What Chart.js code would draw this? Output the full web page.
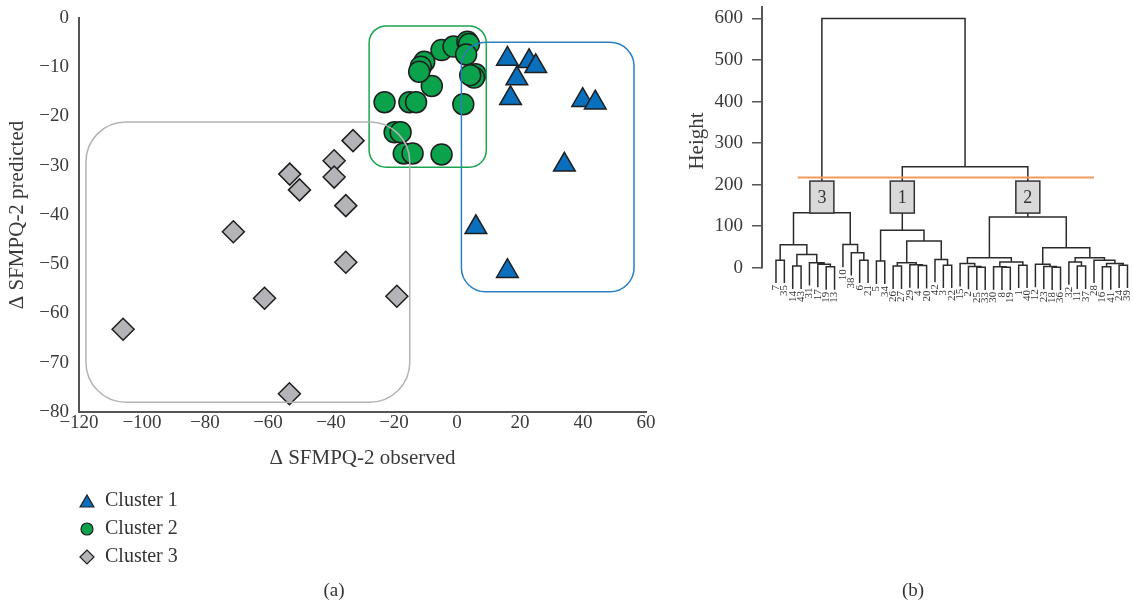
<!DOCTYPE html>
<html>
<head>
<meta charset="utf-8">
<script src="https://cdn.jsdelivr.net/npm/chart.js@4.4.1/dist/chart.umd.min.js"></script>
<style>
  html, body { margin: 0; padding: 0; background: #fff; }
  #wrap { position: relative; width: 1133px; height: 604px; overflow: hidden; }
  #scatter { position: absolute; left: 0; top: 0; }
  #dendro { position: absolute; left: 680px; top: 0; }
</style>
</head>
<body>
<div id="wrap">
  <canvas id="scatter" width="660" height="604"></canvas>
  <canvas id="dendro" width="453" height="604"></canvas>
</div>
<script>
// ---- (a) scatter: observed vs predicted change ----
const cluster1X = [16.0, 22.9, 25.0, 19.0, 17.0, 39.9, 43.9, 34.1, 6.0, 16.0];
const cluster1Y = [-8.3, -8.8, -9.8, -12.3, -16.3, -16.7, -17.2, -29.8, -42.5, -51.4];
const cluster2X = [-23.0, -15.1, -13.0, -8.0, -10.4, -11.5, -12.0, -4.9, -1.1, 3.3, 3.8, 2.9, 5.9, 5.4, 4.2, 2.0, -19.8, -17.9, -16.9, -14.1, -4.9];
const cluster2Y = [-17.1, -17.1, -17.1, -13.8, -8.9, -9.9, -10.9, -6.5, -5.8, -4.8, -5.3, -7.4, -11.4, -12.1, -11.6, -17.5, -23.2, -23.2, -27.5, -27.5, -27.7];
const cluster3X = [-106.0, -71.0, -61.1, -53.2, -53.1, -50.0, -39.0, -39.0, -35.3, -33.0, -35.3, -19.1];
const cluster3Y = [-63.2, -43.4, -56.9, -76.3, -31.7, -34.9, -29.0, -32.3, -38.1, -24.9, -49.6, -56.5];
const clusterNames = ['Cluster 1', 'Cluster 2', 'Cluster 3'];

// rounded frames around the clusters, in axis units (cluster 1, 2, 3)
const frameXMin = [1.4, -27.9, -117.8];
const frameXMax = [56.2, 9.3, -15.0];
const frameYMin = [-55.6, -30.3, -78.0];
const frameYMax = [-4.9, -1.6, -21.1];

// ---- (b) dendrogram ----
const leafLabels = ['7','35','14','43','31','17','19','13','10','38','6','21','5','34','26','27','29','4','20','42','3','22',
  '15','2','25','33','30','8','19','1','40','12','23','18','36','32','11','37','28','16','41','24','39'];
// R style merges: negative = leaf position (1 based), positive = earlier merge
const mergePairs = [
  [-1, -2], [-3, -4], [-7, -8], [-6, 3], [-5, 4], [2, 5], [1, 6], [-11, -12], [-10, 8], [-9, 9], [7, 10],
  [-13, -14], [-15, -16], [-18, -19], [-17, 14], [13, 15], [-21, -22], [-20, 17], [16, 18], [12, 19],
  [-25, -26], [-24, 21], [-23, 22], [-28, -29], [-27, 24], [-30, -31], [25, 26], [23, 27],
  [-34, -35], [-33, 29], [-32, 30], [-37, -38], [-36, 32], [-40, -41], [-42, -43], [34, 35], [-39, 36], [33, 37], [31, 38], [28, 39],
  [20, 40], [11, 41]
];
const mergeHeights = [18, 4, 2, 8, 12, 32, 55, 18, 36, 56, 132,
  16, 4, 5, 7, 12, 6, 20, 64, 90,
  1, 3, 10, 1, 2, 6, 14, 24, 1, 3, 8, 4, 14, 2, 6, 10, 18, 24, 48, 122,
  243, 600];
const clusterBoxText = ['3', '1', '2'];
const clusterBoxMerge = [11, 20, 40];
const cutHeight = 217;
const cutFrom = 2.6;
const cutTo = 38.0;
const heightTicks = [0, 100, 200, 300, 400, 500, 600];

Chart.defaults.font.family = "'Liberation Serif', 'Times New Roman', serif";
Chart.defaults.color = '#3a3a3a';

const serif = "'Liberation Serif', 'Times New Roman', serif";
const minus = v => (v < 0 ? '\u2212' + Math.abs(v) : String(v));
const zip = (xs, ys) => xs.map((x, i) => ({ x: x, y: ys[i] }));

// frames + legend + caption for (a)
const framePlugin = {
    id: 'frames',
    afterDatasetsDraw(chart) {
        const ctx = chart.ctx;
        const xs = chart.scales.x, ys = chart.scales.y;
        const colors = ['#2a7fc4', '#1aa550', '#b3b3b3'];
        const radii = [24, 17, 40];
        ctx.save();
        ctx.lineWidth = 1.5;
        for (let i = 0; i < frameXMin.length; i++) {
            const l = xs.getPixelForValue(frameXMin[i]);
            const r = xs.getPixelForValue(frameXMax[i]);
            const t = ys.getPixelForValue(frameYMax[i]);
            const b = ys.getPixelForValue(frameYMin[i]);
            ctx.strokeStyle = colors[i];
            ctx.beginPath();
            ctx.roundRect(l, t, r - l, b - t, radii[i]);
            ctx.stroke();
        }
        ctx.restore();
    },
    afterDraw(chart) {
        const ctx = chart.ctx;
        const iconR = [8, 6, 7];
        const iconDy = [2, 0, 0];
        ctx.save();
        chart.data.datasets.forEach(function(ds, i) {
            const cy = 501 + i * 28;
            ctx.fillStyle = ds.backgroundColor;
            ctx.strokeStyle = ds.borderColor;
            ctx.lineWidth = 1.2;
            Chart.helpers.drawPoint(ctx, { pointStyle: ds.pointStyle, radius: iconR[i], borderWidth: 1.2, rotation: 0 }, 87, cy + iconDy[i]);
            ctx.fillStyle = '#333';
            ctx.font = '20px ' + serif;
            ctx.textAlign = 'left';
            ctx.textBaseline = 'middle';
            ctx.fillText(ds.label, 105, cy);
        });
        ctx.font = '19px ' + serif;
        ctx.textAlign = 'center';
        ctx.fillText('(a)', 334, 591);
        ctx.restore();
    }
};

new Chart(document.getElementById('scatter'), {
    type: 'scatter',
    data: {
        datasets: [
            { label: clusterNames[0], data: zip(cluster1X, cluster1Y), pointStyle: 'triangle', pointRadius: 12.5,
              backgroundColor: '#0a70bd', borderColor: '#1e1e1e', borderWidth: 1.5 },
            { label: clusterNames[1], data: zip(cluster2X, cluster2Y), pointStyle: 'circle', pointRadius: 10.5,
              backgroundColor: '#0aa24b', borderColor: '#1e1e1e', borderWidth: 1.5 },
            { label: clusterNames[2], data: zip(cluster3X, cluster3Y), pointStyle: 'rectRot', pointRadius: 11,
              backgroundColor: '#b4b4b8', borderColor: '#1e1e1e', borderWidth: 1.5 }
        ]
    },
    options: {
        responsive: false,
        animation: false,
        events: [],
        layout: { padding: { top: 18, right: 10, bottom: 130, left: 0 } },
        plugins: { legend: { display: false }, tooltip: { enabled: false } },
        scales: {
            x: {
                type: 'linear', min: -120, max: 60,
                grid: { display: false, drawTicks: false },
                border: { display: true, color: '#555', width: 2 },
                ticks: { stepSize: 20, padding: 0, color: '#3a3a3a', font: { size: 19 }, callback: minus },
                title: { display: true, text: '\u0394 SFMPQ-2 observed', color: '#3a3a3a', font: { size: 21 }, padding: { top: 0, bottom: 3 } },
                afterFit: function(s) { s.height = 62; s.paddingLeft = 0; s.paddingRight = 0; }
            },
            y: {
                type: 'linear', min: -80, max: 0,
                grid: { display: false, drawTicks: false },
                border: { display: true, color: '#555', width: 2 },
                ticks: { stepSize: 10, padding: 10, color: '#3a3a3a', font: { size: 19 }, callback: minus },
                title: { display: true, text: '\u0394 SFMPQ-2 predicted', color: '#3a3a3a', font: { size: 21 }, padding: { top: 5, bottom: 0 } },
                afterFit: function(s) { s.width = 79; s.paddingTop = 0; s.paddingBottom = 0; }
            }
        }
    },
    plugins: [framePlugin]
});

// ---- build dendrogram segments from the merges ----
const hang = 55;
const nodeX = [];
const leafParentH = [];
const treePoints = [];
mergePairs.forEach(function(pair, i) {
    const h = mergeHeights[i];
    const ends = pair.map(function(c) {
        if (c < 0) {
            leafParentH[-c - 1] = h;
            return { x: -c - 1, y: h - hang };
        }
        return { x: nodeX[c - 1], y: mergeHeights[c - 1] };
    });
    nodeX[i] = (ends[0].x + ends[1].x) / 2;
    treePoints.push(
        { x: ends[0].x, y: ends[0].y }, { x: ends[0].x, y: h },
        { x: ends[1].x, y: h }, { x: ends[1].x, y: ends[1].y },
        { x: ends[1].x, y: null }
    );
});

const dendroPlugin = {
    id: 'dendroExtras',
    afterDatasetsDraw(chart) {
        const ctx = chart.ctx;
        const xs = chart.scales.x, ys = chart.scales.y;
        const area = chart.chartArea;
        ctx.save();
        // axis line from 0 up to the top
        ctx.strokeStyle = '#555';
        ctx.lineWidth = 2;
        ctx.beginPath();
        ctx.moveTo(area.left, area.top);
        ctx.lineTo(area.left, ys.getPixelForValue(0) + 0.75);
        ctx.stroke();

        // cluster boxes
        clusterBoxText.forEach(function(txt, i) {
            const cx = xs.getPixelForValue(nodeX[clusterBoxMerge[i] - 1]);
            const cy = ys.getPixelForValue(170);
            ctx.fillStyle = '#d9d9d9';
            ctx.strokeStyle = '#333';
            ctx.lineWidth = 1.5;
            ctx.fillRect(cx - 12, cy - 16, 24, 32);
            ctx.strokeRect(cx - 12, cy - 16, 24, 32);
            ctx.fillStyle = '#333';
            ctx.font = '18px ' + serif;
            ctx.textAlign = 'center';
            ctx.textBaseline = 'middle';
            ctx.fillText(txt, cx, cy + 1);
        });

        // leaf labels, rotated
        ctx.fillStyle = '#333';
        ctx.font = '11px ' + serif;
        ctx.textAlign = 'right';
        ctx.textBaseline = 'middle';
        leafLabels.forEach(function(lab, i) {
            const px = xs.getPixelForValue(i);
            const py = ys.getPixelForValue(leafParentH[i] - hang) + 2;
            ctx.save();
            ctx.translate(px, py);
            ctx.rotate(-Math.PI / 2);
            ctx.fillText(lab, 0, 0);
            ctx.restore();
        });

        ctx.font = '19px ' + serif;
        ctx.textAlign = 'center';
        ctx.fillText('(b)', 233, 591);
        ctx.restore();
    }
};

new Chart(document.getElementById('dendro'), {
    type: 'line',
    data: {
        datasets: [
            { label: 'cut', data: [{ x: cutFrom, y: cutHeight }, { x: cutTo, y: cutHeight }],
              borderColor: '#f29a5c', borderWidth: 2, pointRadius: 0 },
            { label: 'tree', data: treePoints, borderColor: '#2b2b2b', borderWidth: 1.5, pointRadius: 0,
              spanGaps: false, clip: false, borderJoinStyle: 'miter', tension: 0 }
        ]
    },
    options: {
        responsive: false,
        animation: false,
        events: [],
        layout: { padding: { top: 6, right: 0, bottom: 328, left: 0 } },
        plugins: { legend: { display: false }, tooltip: { enabled: false } },
        scales: {
            x: { type: 'linear', min: -1.67, max: 42.66, display: false },
            y: {
                type: 'linear', min: -20, max: 630,
                afterBuildTicks: function(s) { s.ticks = heightTicks.map(v => ({ value: v })); },
                grid: { drawOnChartArea: false, drawTicks: true, tickLength: 10, color: '#555', lineWidth: 1.5 },
                border: { display: false },
                ticks: { padding: 9, color: '#3a3a3a', font: { size: 19 } },
                title: { display: true, text: 'Height', color: '#3a3a3a', font: { size: 21 }, padding: { top: 5, bottom: 0 } },
                afterFit: function(s) { s.width = 82; s.paddingTop = 0; s.paddingBottom = 0; }
            }
        }
    },
    plugins: [dendroPlugin]
});
</script>
</body>
</html>
